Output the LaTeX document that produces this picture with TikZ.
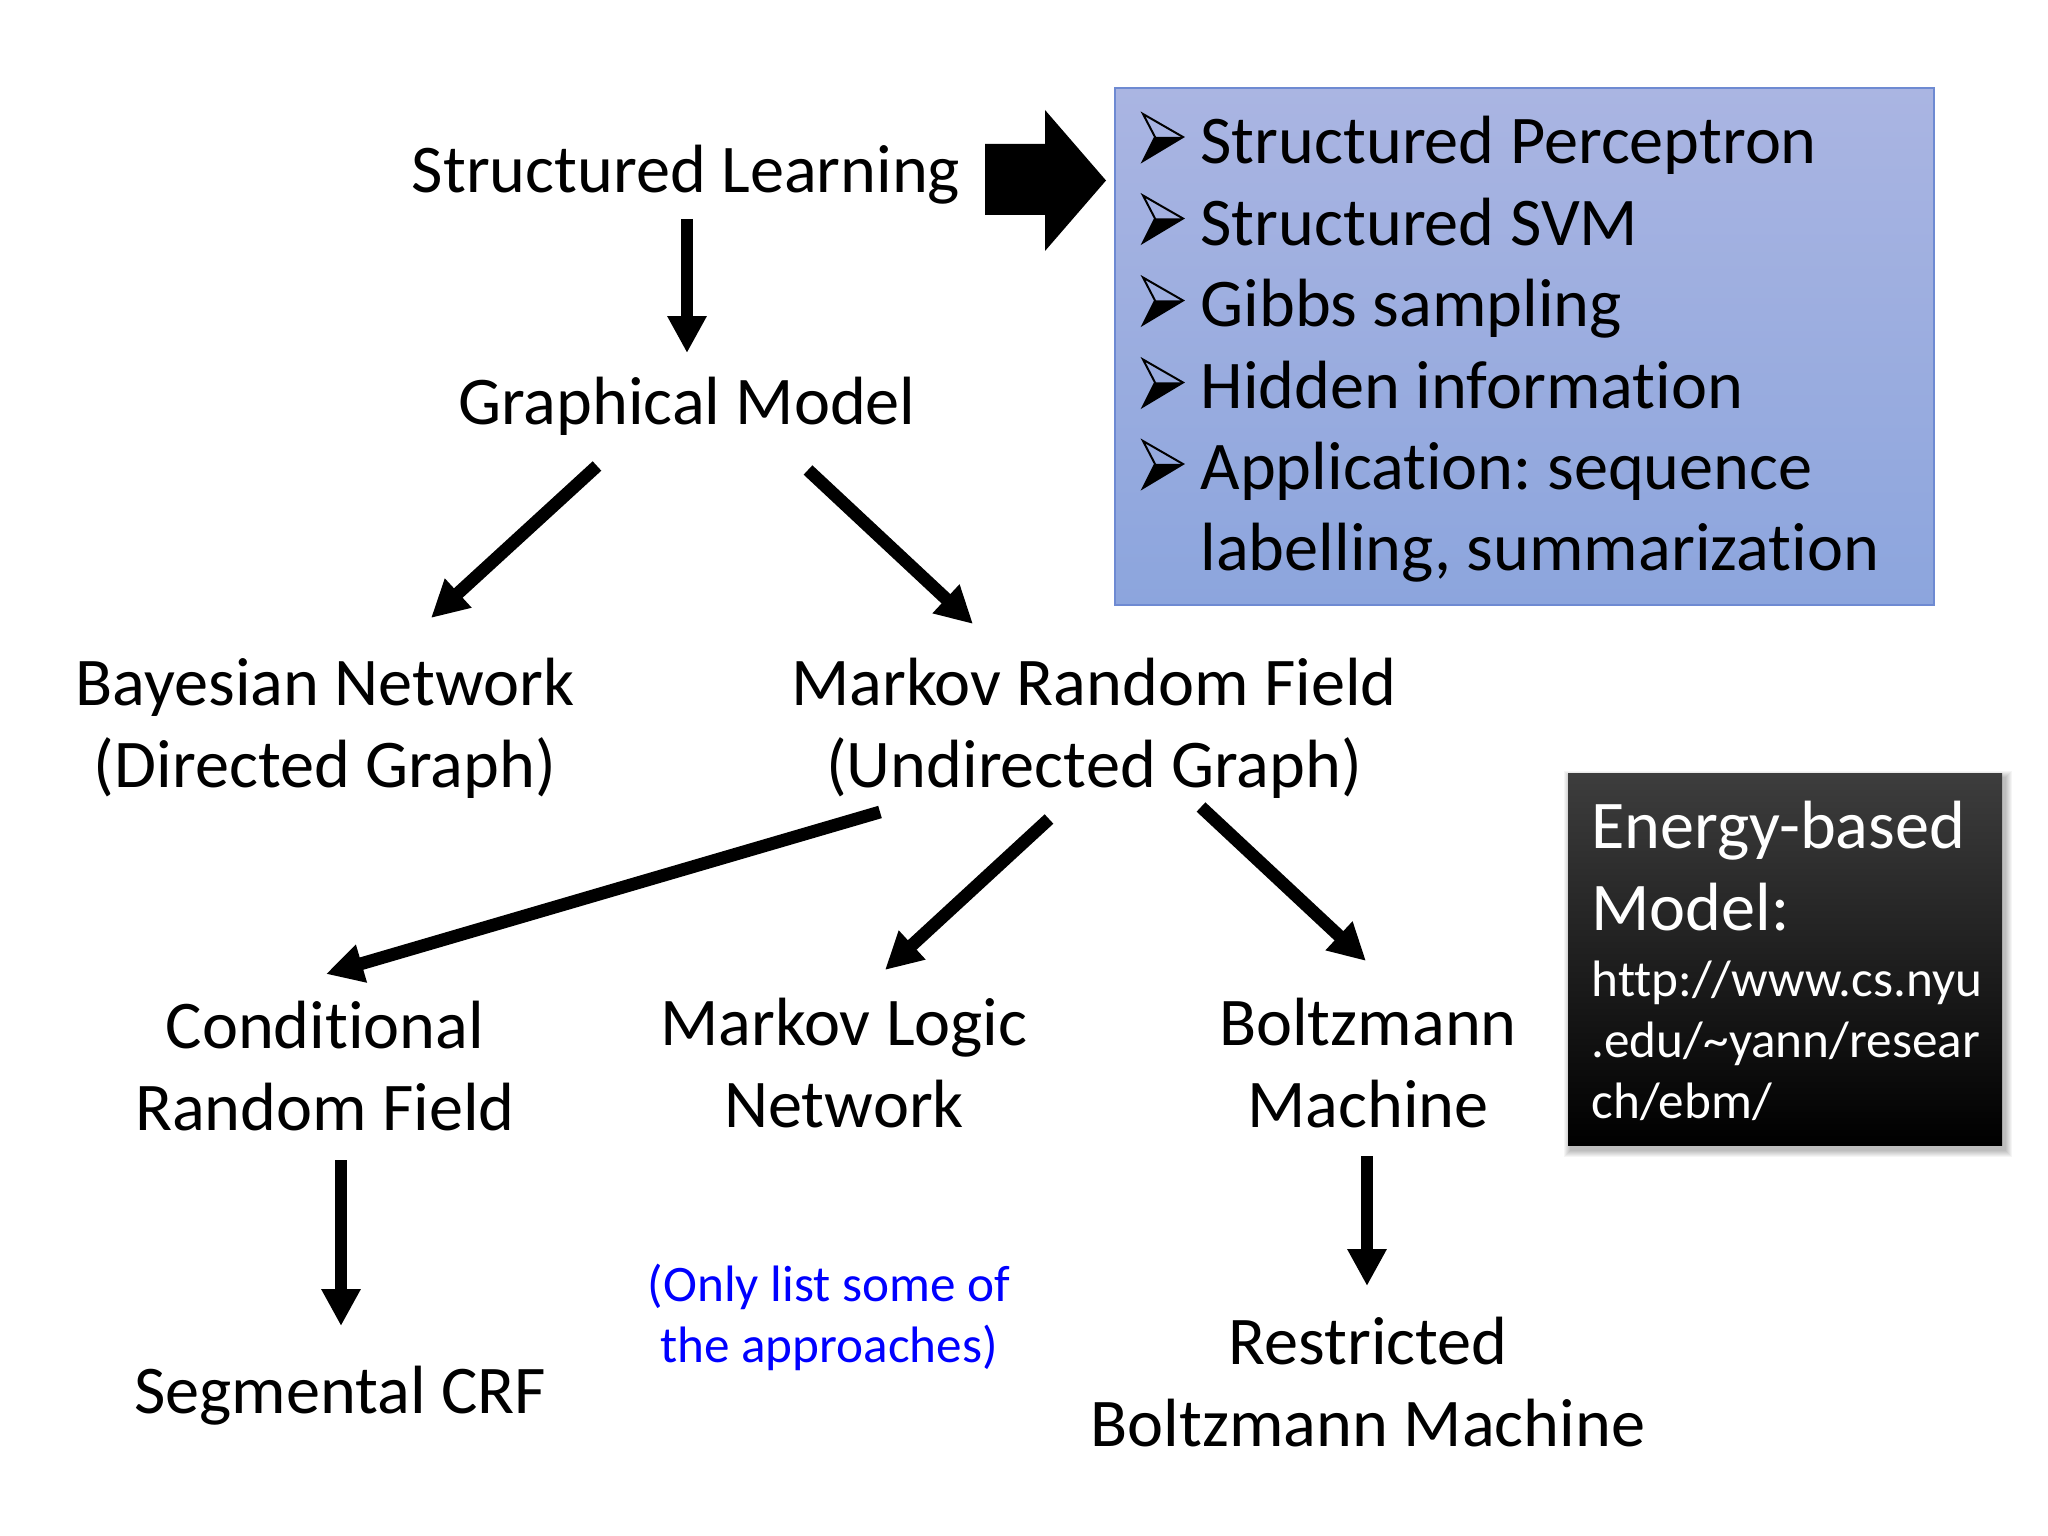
\documentclass[tikz,border=0pt]{standalone}
\usepackage{fontspec}
\setmainfont{Carlito}[Ligatures=NoCommon]
\frenchspacing
\usetikzlibrary{arrows.meta,calc}
\definecolor{boxtop}{RGB}{170,181,226}
\definecolor{boxbot}{RGB}{140,165,221}
\definecolor{boxline}{RGB}{110,138,210}
\definecolor{notecol}{RGB}{0,0,255}
\tikzset{
  lbl/.style={font=\fontsize{24}{28.8}\selectfont, inner sep=0pt, align=center, anchor=base},
  arr/.style={line width=4.5pt, -{Triangle[length=13pt,width=13pt]}},
  bulletpic/.pic={
    \fill (12,-26) -- (40,-26) -- (0,-2) -- cycle;
    \draw[line width=0.7pt, line join=miter] (0,-49) -- (40,-26) -- (0,-2) -- (12,-26) -- cycle;
  }
}
\begin{document}
\begin{tikzpicture}[x=0.3515625pt,y=-0.3515625pt]
\useasboundingbox (0,0) rectangle (2048,1536);
\fill[white] (0,0) rectangle (2048,1536);

% ---------- blue box ----------
\shade[top color=boxtop, bottom color=boxbot] (1115,88) rectangle (1934,605);
\draw[boxline, line width=0.5pt] (1115,88) rectangle (1934,605);
\node[font=\fontsize{24}{28.65}\selectfont, inner sep=0pt, align=left, anchor=base west] (list) at (1200,571)
  {Structured Perceptron\\Structured SVM\\Gibbs sampling\\Hidden information\\Application: sequence\\labelling, summarization};
\foreach \yy in {163,244.5,326.5,408.5,490}
  \pic at (1143,\yy) {bulletpic};

% ---------- block arrow ----------
\fill (985,144) -- (1045,144) -- (1045,110) -- (1106,180.5) -- (1045,251) -- (1045,215) -- (985,215) -- cycle;

% ---------- black box ----------
\foreach \k in {1,...,7}
  \fill[black, opacity=0.04] (1568+3-\k,773+5-\k) rectangle (2002+3+\k,1145+5+\k);
\shade[top color=black!76, middle color=black, bottom color=black] (1568,773) rectangle (2002,1145);
\node[font=\fontsize{24}{28.8}\selectfont, text=white, inner sep=0pt, align=left, anchor=base west] (ebm) at (1591,930)
  {Energy-based\\Model:};
\node[font=\fontsize{18}{21.4}\selectfont, text=white, inner sep=0pt, align=left, anchor=base west] (url) at (1591,1118)
  {http://www.cs.nyu\\.edu/\textasciitilde yann/resear\\ch/ebm/};

% ---------- tree nodes (base = last line) ----------
\node[lbl] (sl)  at (686,193)    {Structured Learning};
\node[lbl] (gm)  at (687,425)    {Graphical Model};
\node[lbl] (bn)  at (325,787.5)  {Bayesian Network\\(Directed Graph)};
\node[lbl] (mrf) at (1094,787.5) {Markov Random Field\\(Undirected Graph)};
\node[lbl] (crf) at (325,1130)   {Conditional\\Random Field};
\node[lbl] (mln) at (844,1127)   {Markov Logic\\Network};
\node[lbl] (bm)  at (1368,1127)  {Boltzmann\\Machine};
\node[lbl] (seg) at (340,1413)   {Segmental CRF};
\node[lbl] (rbm) at (1368,1446)  {Restricted\\Boltzmann Machine};
\node[font=\fontsize{18}{21.1}\selectfont, text=notecol, inner sep=0pt, align=center, anchor=base] (note) at (829,1362)
  {(Only list some of\\the approaches)};

% ---------- connectors ----------
\draw[arr] ($(sl.base)+(1,26)$)      -- ($(gm.base)+(0,-72)$);
\draw[arr] ($(gm.base)+(-90,41)$)    -- ($(bn.base)+(106,-169.5)$);
\draw[arr] ($(gm.base)+(121,45)$)    -- ($(mrf.base)+(-121,-163.5)$);
\draw[arr] ($(mrf.base)+(-214,24.5)$) -- ($(crf.base)+(1,-156)$);
\draw[arr] ($(mrf.base)+(-45,31.5)$) -- ($(mln.base)+(41,-157)$);
\draw[arr] ($(mrf.base)+(107,19.5)$) -- ($(bm.base)+(-2,-166)$);
\draw[arr] ($(crf.base)+(16,30)$)    -- ($(seg.base)+(1,-87)$);
\draw[arr] ($(bm.base)+(-1,29)$)     -- ($(rbm.base)+(-1,-160)$);
\end{tikzpicture}
\end{document}
